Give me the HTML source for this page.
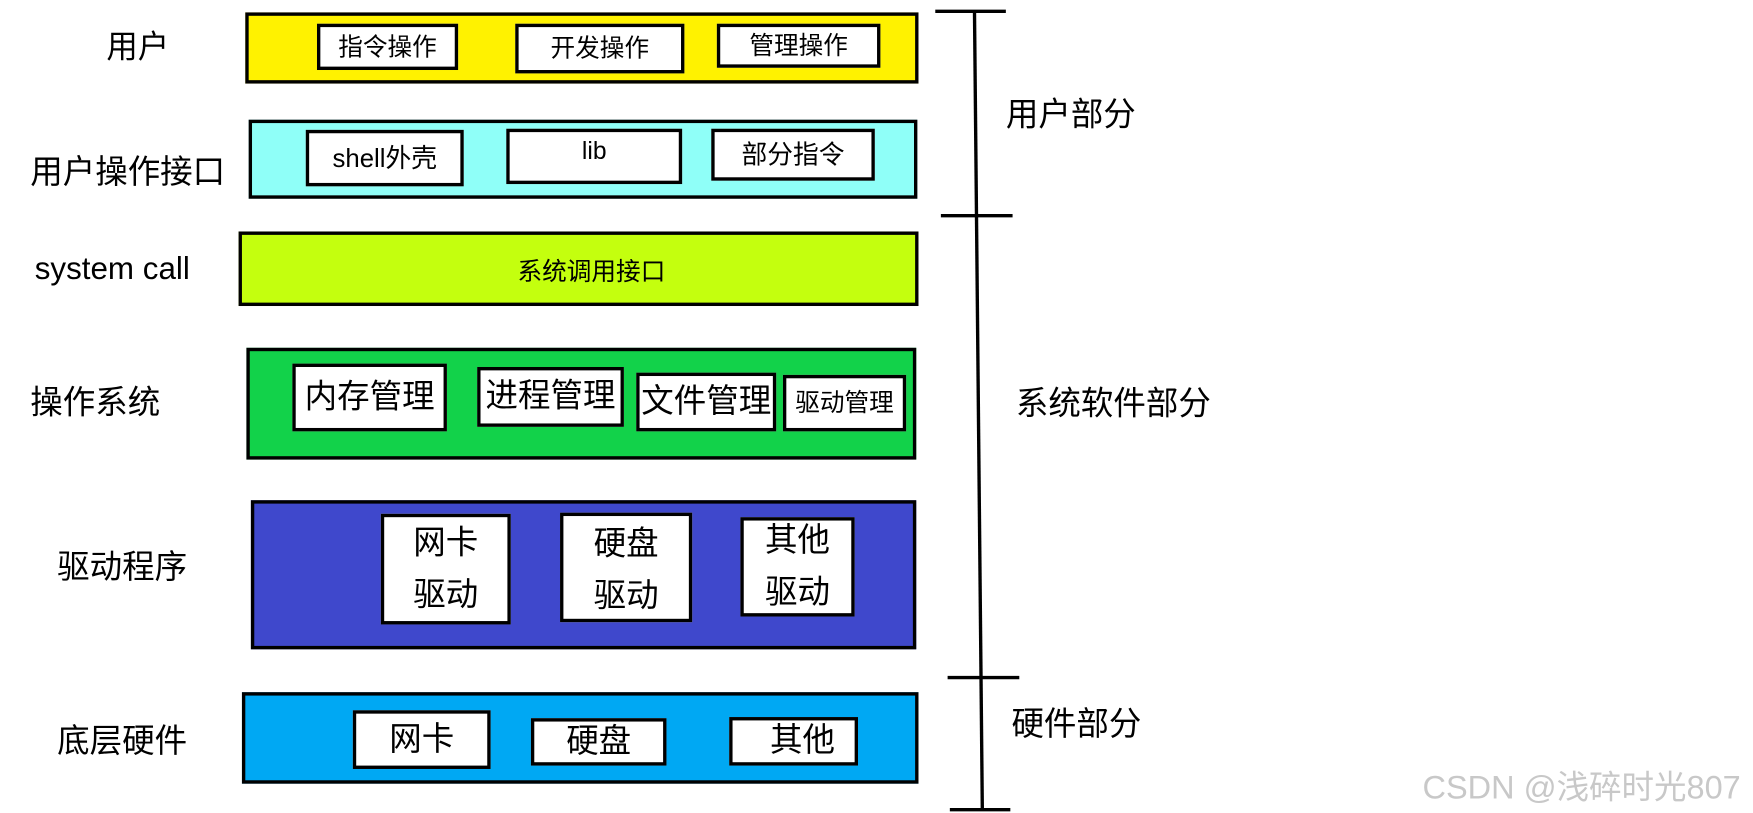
<!DOCTYPE html>
<html><head><meta charset="utf-8"><style>
html,body{margin:0;padding:0;background:#fff;width:1753px;height:813px;overflow:hidden}
#w{position:absolute;left:0;top:0;width:1565px;height:720px;transform:scale(1.1201,1.1292);transform-origin:0 0;font-family:"Liberation Sans","Noto Sans CJK SC",sans-serif;color:#000}
.b{position:absolute;border:3px solid #000;box-sizing:border-box}
.i{position:absolute;border:3px solid #000;box-sizing:border-box;background:#fff;display:flex;align-items:center;justify-content:center;text-align:center;line-height:1.6}
.t{position:absolute;white-space:nowrap;line-height:1}
.l{position:absolute;background:#000}
</style></head><body><div id="w">
<div class="b" style="left:219px;top:11px;width:601px;height:63px;background:#fff200"></div>
<div class="i" style="left:283px;top:21px;width:126px;height:41px;font-size:22px">指令操作</div>
<div class="i" style="left:460px;top:21px;width:151px;height:44px;font-size:22px">开发操作</div>
<div class="i" style="left:640px;top:21px;width:146px;height:39px;font-size:22px">管理操作</div>

<div class="b" style="left:222px;top:106px;width:597px;height:70px;background:#8ffff8"></div>
<div class="i" style="left:273px;top:115px;width:141px;height:50px;font-size:23px">shell外壳</div>
<div class="i" style="left:452px;top:114px;width:157px;height:49px;font-size:22px;align-items:flex-start;padding-top:6px;line-height:1">lib</div>
<div class="i" style="left:635px;top:114px;width:146px;height:46px;font-size:23px">部分指令</div>

<div class="b" style="left:213px;top:205px;width:607px;height:66px;background:#c4ff0e"></div>
<div class="t" style="left:462px;top:230px;font-size:22px">系统调用接口</div>

<div class="b" style="left:220px;top:308px;width:598px;height:99px;background:#12d24a"></div>
<div class="i" style="left:261px;top:322px;width:138px;height:60px;font-size:29px">内存管理</div>
<div class="i" style="left:426px;top:325px;width:131px;height:53px;font-size:29px">进程管理</div>
<div class="i" style="left:568px;top:330px;width:125px;height:52px;font-size:29px">文件管理</div>
<div class="i" style="left:699px;top:332px;width:110px;height:50px;font-size:22px">驱动管理</div>

<div class="b" style="left:224px;top:443px;width:594px;height:132px;background:#3f48cc"></div>
<div class="i" style="left:340px;top:455px;width:116px;height:98px;font-size:29px">网卡<br>驱动</div>
<div class="i" style="left:500px;top:454px;width:118px;height:97px;font-size:29px;align-items:flex-start;padding-top:2px">硬盘<br>驱动</div>
<div class="i" style="left:661px;top:458px;width:102px;height:88px;font-size:29px">其他<br>驱动</div>

<div class="b" style="left:216px;top:613px;width:604px;height:81px;background:#00a8f3"></div>
<div class="i" style="left:315px;top:629px;width:123px;height:52px;font-size:29px">网卡</div>
<div class="i" style="left:474px;top:636px;width:121px;height:42px;font-size:29px">硬盘</div>
<div class="i" style="left:651px;top:635px;width:115px;height:43px;font-size:29px;padding-left:16px">其他</div>

<svg style="position:absolute;left:0;top:0" width="1565" height="720">
<g stroke="#000" stroke-width="3" fill="none">
<line x1="870" y1="10" x2="877" y2="718"/>
<line x1="835" y1="10" x2="898" y2="10"/>
<line x1="840" y1="191" x2="904" y2="191"/>
<line x1="846" y1="600" x2="910" y2="600"/>
<line x1="848" y1="717" x2="902" y2="717"/>
</g></svg>

<div class="t" style="left:95px;top:28px;font-size:28px">用户</div>
<div class="t" style="left:27px;top:139px;font-size:29px">用户操作接口</div>
<div class="t" style="left:31px;top:224px;font-size:28px">system call</div>
<div class="t" style="left:27px;top:343px;font-size:29px">操作系统</div>
<div class="t" style="left:51px;top:489px;font-size:29px">驱动程序</div>
<div class="t" style="left:51px;top:643px;font-size:29px">底层硬件</div>
<div class="t" style="left:898px;top:88px;font-size:29px">用户部分</div>
<div class="t" style="left:907px;top:344px;font-size:29px">系统软件部分</div>
<div class="t" style="left:903px;top:628px;font-size:29px">硬件部分</div>
<div class="t" style="left:1270px;top:684px;font-size:29px;color:#c8c8c8">CSDN @浅碎时光807</div>
</div></body></html>
